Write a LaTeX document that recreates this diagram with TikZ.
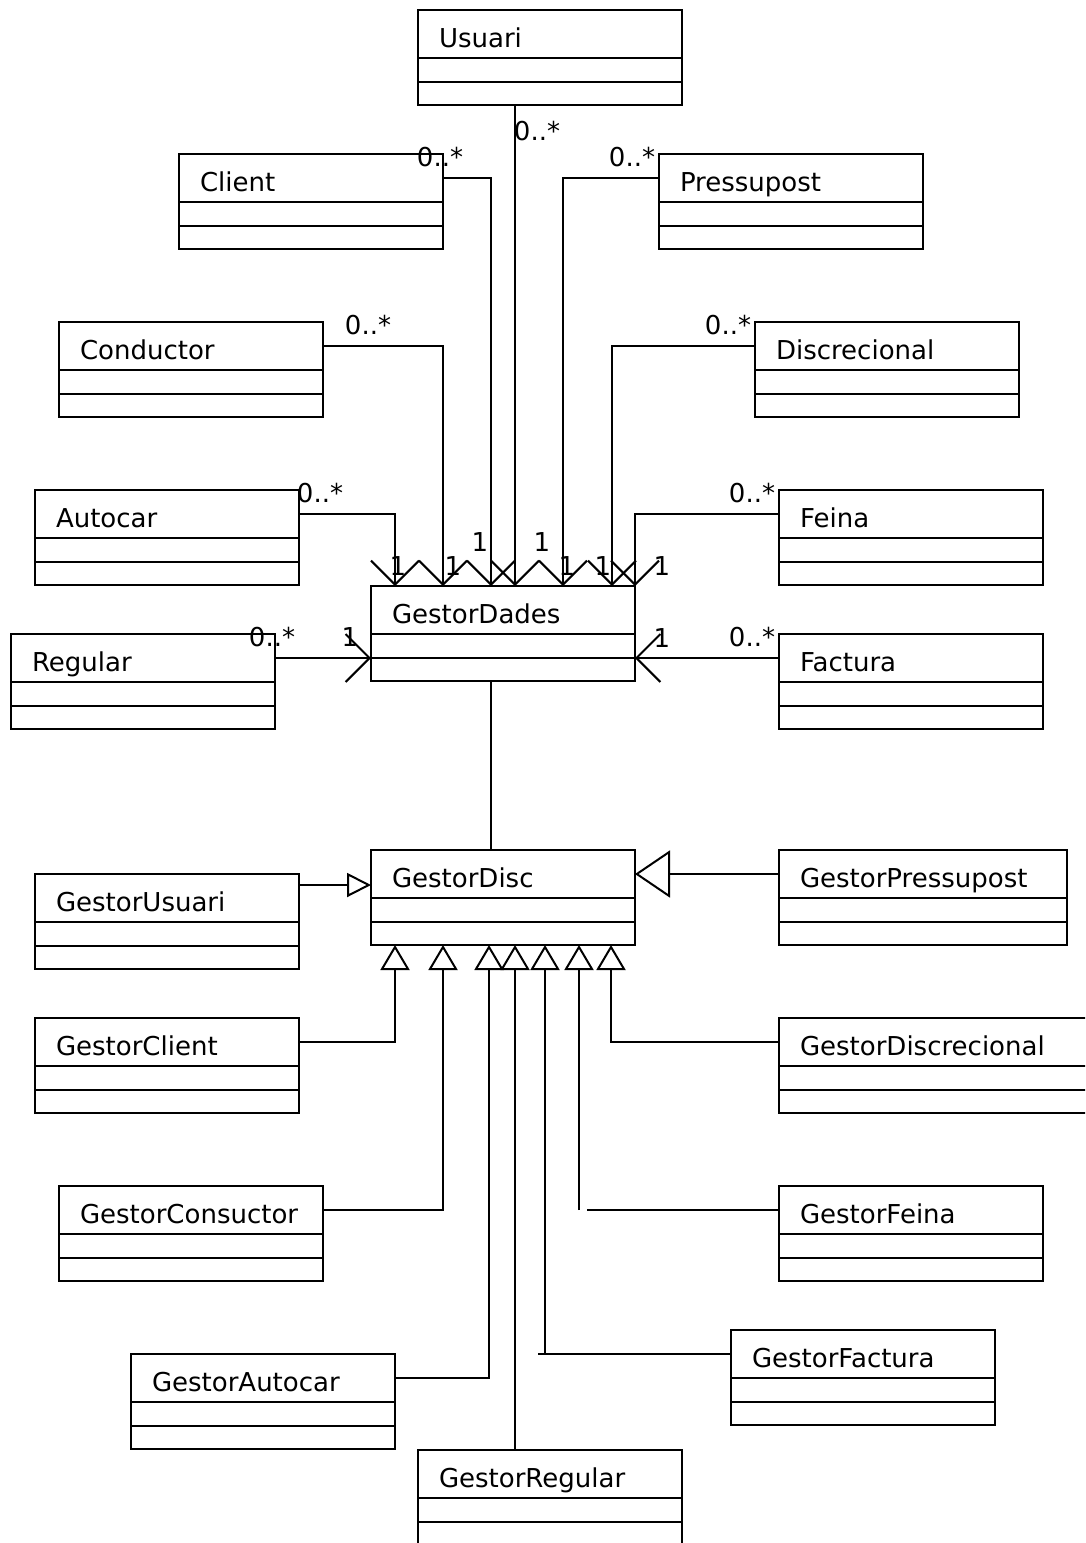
\documentclass[tikz,border=0pt]{standalone}
\usepackage{fontspec}
\setmainfont{DejaVu Sans}
\usepackage{tikz}
\usetikzlibrary{arrows.meta}

\begin{document}
\begin{tikzpicture}[x=1pt,y=-1pt]
\tikzstyle{every node}=[font=\fontsize{26}{31}\selectfont, inner sep=0pt]
\tikzstyle{cls}=[draw, line width=2pt, outer sep=0pt, anchor=north west, minimum width=264pt, minimum height=95pt,
  text width=222pt, align=left, text height=0pt, text depth=21pt,
  path picture={\draw[line width=2pt] ([yshift=-47.5pt]path picture bounding box.north west) -- ([yshift=-47.5pt]path picture bounding box.north east)
    ([yshift=-71.5pt]path picture bounding box.north west) -- ([yshift=-71.5pt]path picture bounding box.north east);}]
\tikzstyle{assoc}=[line width=2pt, -{Straight Barb[length=24pt,width=48pt]}]
\tikzstyle{gen}=[line width=2pt, -{Triangle[open,length=25pt,width=29pt]}]
\useasboundingbox (0,0) rectangle (1085,1543);
\clip (0,0) rectangle (1085,1543);
%classes round GestorDades
\node[cls] (usuari) at (418,10) {Usuari};
\node[cls] (client) at (179,154) {Client}; \node[cls] (pressupost) at (659,154) {Pressupost};
\node[cls] (conductor) at (59,322) {Conductor}; \node[cls] (discrecional) at (755,322) {Discrecional};
\node[cls] (autocar) at (35,490) {Autocar}; \node[cls] (feina) at (779,490) {Feina};
\node[cls] (dades) at (371,586) {GestorDades};
\node[cls] (regular) at (11,634) {Regular}; \node[cls] (factura) at (779,634) {Factura};
%gestors round GestorDisc
\node[cls] (gdisc) at (371,850) {GestorDisc};
\node[cls] (gusuari) at (35,874) {GestorUsuari};
\node[cls, minimum width=288pt, text width=246pt] (gpressupost) at (779,850) {GestorPressupost};
\node[cls] (gclient) at (35,1018) {GestorClient};
\node[cls, minimum width=310pt, text width=268pt] (gdiscrecional) at (779,1018) {GestorDiscrecional};
\node[cls] (gconductor) at (59,1186) {GestorConsuctor}; \node[cls] (gfeina) at (779,1186) {GestorFeina};
\node[cls] (gfactura) at (731,1330) {GestorFactura};
\node[cls] (gautocar) at (131,1354) {GestorAutocar};
\node[cls] (gregular) at (418,1450) {GestorRegular};
%associations into GestorDades
\draw[assoc] ([yshift=-24pt]autocar.north east) -| ([xshift=24pt]dades.north west);
\node (autocar-n) at (320,493) {0..*}; \node (autocar-1) at (398,566) {1};
\draw[assoc] ([yshift=-24pt]conductor.north east) -| ([xshift=72pt]dades.north west);
\node (conductor-n) at (368,325) {0..*}; \node (conductor-1) at (453,566) {1};
\draw[assoc] ([yshift=-24pt]client.north east) -| ([xshift=120pt]dades.north west);
\node (client-n) at (440,157) {0..*}; \node (client-1) at (480,542) {1};
\draw[assoc] ([xshift=97pt]usuari.south west) -- ([xshift=144pt]dades.north west);
\node (usuari-n) at (537,131) {0..*}; \node (usuari-1) at (542,542) {1};
\draw[assoc] ([yshift=-24pt]pressupost.north west) -| ([xshift=192pt]dades.north west);
\node (pressupost-n) at (632,157) {0..*}; \node (pressupost-1) at (567,566) {1};
\draw[assoc] ([yshift=-24pt]discrecional.north west) -| ([xshift=241pt]dades.north west);
\node (discrecional-n) at (728,325) {0..*}; \node (discrecional-1) at (603,566) {1};
\draw[assoc] ([yshift=-24pt]feina.north west) -| (dades.north east);
\node (feina-n) at (752,493) {0..*}; \node (feina-1) at (662,566) {1};
\draw[assoc] ([yshift=-24pt]regular.north east) -- ([yshift=-72pt]dades.north west);
\node (regular-n) at (272,637) {0..*}; \node (regular-1) at (350,637) {1};
\draw[assoc] ([yshift=-24pt]factura.north west) -- ([yshift=-72pt]dades.north east);
\node (factura-n) at (752,637) {0..*}; \node (factura-1) at (662,638) {1};
%GestorDades to GestorDisc
\draw[line width=2pt] ([xshift=120pt]dades.south west) -- ([xshift=120pt]gdisc.north west);
%generalizations into GestorDisc
\draw[gen, -{Triangle[open,length=24pt,width=24pt]}] ([yshift=-11pt]gusuari.north east) -- ([yshift=-35pt]gdisc.north west);
\draw[gen, -{Triangle[open,length=35pt,width=47pt]}] ([yshift=-24pt]gpressupost.north west) -- ([yshift=-24pt]gdisc.north east);
\draw[gen] ([yshift=-24pt]gclient.north east) -| ([xshift=24pt]gdisc.south west);
\draw[gen] ([yshift=-24pt]gconductor.north east) -| ([xshift=72pt]gdisc.south west);
\draw[gen] ([yshift=-24pt]gautocar.north east) -| ([xshift=118pt]gdisc.south west);
\draw[gen] ([xshift=97pt]gregular.north west) -- ([xshift=144pt]gdisc.south west);
\draw[gen] ([yshift=-24pt]gfactura.north west) -- ++(-193,0) ++(7,0) -- ([xshift=174pt]gdisc.south west);
\draw[gen] ([yshift=-24pt]gfeina.north west) -- ++(-192,0) ++(-8,0) -- ([xshift=208pt]gdisc.south west);
\draw[gen] ([yshift=-24pt]gdiscrecional.north west) -| ([xshift=240pt]gdisc.south west);
\end{tikzpicture}
\end{document}
